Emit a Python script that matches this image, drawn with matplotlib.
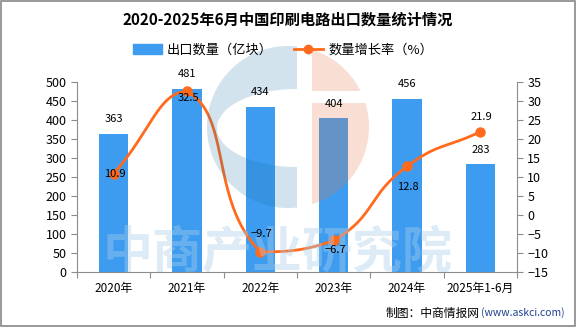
import numpy as np
import matplotlib.pyplot as plt
from matplotlib.patches import Polygon, Rectangle, Patch
from matplotlib.lines import Line2D
from matplotlib.transforms import offset_copy

plt.rcParams['font.family'] = ['Noto Sans CJK SC', 'DejaVu Sans']
plt.rcParams['axes.unicode_minus'] = True

years = ['2020年', '2021年', '2022年', '2023年', '2024年', '2025年1-6月']
export_qty = [363, 481, 434, 404, 456, 283]      # 亿块
growth = [10.9, 32.5, -9.7, -6.7, 12.8, 21.9]     # %

bar_color = '#3D9CF0'
line_color = '#FF6A1C'
grid_gray = '#8C8C8C'

fig = plt.figure(figsize=(5.76, 3.27), dpi=100)
fig.patch.set_facecolor('white')

ax = fig.add_axes([77 / 576, 1 - 272 / 327, 440 / 576, 190 / 327])
ax2 = ax.twinx()

x = np.arange(len(years))
ax.bar(x, export_qty, width=0.4, color=bar_color, zorder=2)
ax.set_xlim(-0.5, len(years) - 0.5)
ax.set_ylim(0, 500)
ax.set_yticks(range(0, 501, 50))
ax2.set_ylim(-15, 35)
ax2.set_yticks(range(-15, 36, 5))


# smoothed line: bezier control points clamped to neighbouring points' range
def smooth_curve(xs, ys, smooth=0.5, yscale=190 / 50 / 73.3):
    pts = np.column_stack([np.asarray(xs, float), np.asarray(ys, float) * yscale])
    n = len(pts)
    cin, cout = [None] * n, [None] * n
    for i in range(n):
        p = pts[i]
        prev = pts[i - 1] if i > 0 else p
        nxt = pts[i + 1] if i < n - 1 else p
        v = nxt - prev
        l0 = np.linalg.norm(p - prev)
        l1 = np.linalg.norm(nxt - p)
        r = l1 / (l0 + l1) if l0 + l1 > 0 else 0.5
        c_out = p + v * smooth * r
        c_in = p - v * smooth * (1 - r)
        c_out = np.clip(c_out, np.minimum(p, nxt), np.maximum(p, nxt))
        c_in = np.clip(c_in, np.minimum(p, prev), np.maximum(p, prev))
        cin[i], cout[i] = c_in, c_out
    t = np.linspace(0, 1, 50)[:, None]
    segs = []
    for i in range(n - 1):
        p0, p1, p2, p3 = pts[i], cout[i], cin[i + 1], pts[i + 1]
        segs.append((1 - t) ** 3 * p0 + 3 * (1 - t) ** 2 * t * p1 + 3 * (1 - t) * t ** 2 * p2 + t ** 3 * p3)
    c = np.vstack(segs)
    return c[:, 0], c[:, 1] / yscale


cx, cy = smooth_curve(x, growth)
ax2.plot(cx, cy, color=line_color, lw=2.0, zorder=5, solid_capstyle='round')
ax2.plot(x, growth, 'o', color=line_color, ms=6.5, zorder=6)

for a in (ax, ax2):
    a.set_facecolor('none')
    a.spines['top'].set_visible(False)
    for s in ('left', 'right', 'bottom'):
        a.spines[s].set_color(grid_gray)
    a.tick_params(axis='y', colors=grid_gray, labelcolor='black', labelsize=9, length=4, width=0.8)
ax2.spines['left'].set_visible(False)
ax.spines['right'].set_visible(False)
ax2.spines['bottom'].set_visible(False)
ax.set_zorder(1)
ax2.set_zorder(2)

ax.set_xticks(x)
ax.set_xticklabels(years, fontsize=8.5)
ax.tick_params(axis='x', which='major', length=0, pad=7)
ax.set_xticks(np.arange(-0.5, len(years), 1), minor=True)
ax.tick_params(axis='x', which='minor', length=4, color=grid_gray, width=0.8)

# watermark: logo and company name
wm = fig.add_axes([0, 0, 1, 1], zorder=3)
wm.set_xlim(0, 576)
wm.set_ylim(327, 0)
wm.axis('off')
blue_wm = (30 / 255, 115 / 255, 170 / 255)
peach_wm = (233 / 255, 119 / 255, 66 / 255)
ox, oy, r = 288, 127, 81
ex, ey, ea, eb = 297, 128, 80, 39
cut = 297
t0 = np.arccos((cut - ox) / r)
ts = np.linspace(-t0, -2 * np.pi + t0, 120)
outer = np.column_stack([ox + r * np.cos(ts), oy + r * np.sin(ts)])
ss = np.linspace(np.pi / 2, 3 * np.pi / 2, 80)
inner = np.column_stack([ex + ea * np.cos(ss), ey + eb * np.sin(ss)])
wm.add_patch(Polygon(np.vstack([outer, inner]), closed=True, color=blue_wm, alpha=0.2, lw=0))

px, band0, band1 = 312, 91, 103
a_top = -np.arccos((px - ox) / r)
a_b0 = np.arcsin((band0 - oy) / r)
a_b1 = np.arcsin((band1 - oy) / r)
a_bot = np.arccos((px - ox) / r)
for a0, a1, corner in ((a_top, a_b0, (px, band0)), (a_b1, a_bot, (px, band1))):
    tt = np.linspace(a0, a1, 80)
    arc = np.column_stack([ox + r * np.cos(tt), oy + r * np.sin(tt)])
    wm.add_patch(Polygon(np.vstack([arc, [corner]]), closed=True, color=peach_wm, alpha=0.23, lw=0))

wm.text(278, 254, '中商产业研究院', fontsize=36, fontweight='bold', color=(170 / 255, 205 / 255, 235 / 255),
        alpha=0.4, ha='center', va='center')

# value labels sit above the watermark layer
for xi, v in zip(x, export_qty):
    fig.text(xi, v, str(v), transform=offset_copy(ax.transData, fig=fig, x=0, y=7, units='points'),
             ha='center', va='bottom', fontsize=8, color='black', zorder=5)

label_dy = [0, -5, 13, -7, -15, 11]
for xi, v, dy in zip(x, growth, label_dy):
    fig.text(xi, v, f'{v:.1f}'.replace('-', '\u2212'),
             transform=offset_copy(ax2.transData, fig=fig, x=1, y=dy, units='points'),
             ha='center', va='center', fontsize=8, color='black', zorder=5)

fig.text(0.5, 1 - 20 / 327, '2020-2025年6月中国印刷电路出口数量统计情况', ha='center', va='center',
         fontsize=11, fontweight='bold')

handles = [Patch(color=bar_color),
           Line2D([0], [0], color=line_color, lw=2, marker='o', ms=6)]
fig.legend(handles, ['出口数量（亿块）', '数量增长率（%）'], loc='center', bbox_to_anchor=(0.491, 1 - 50 / 327),
           ncol=2, frameon=False, fontsize=9.5, handlelength=2.2, handleheight=0.75, columnspacing=1.6,
           handletextpad=0.4)

fig.text(480 / 576, 1 - 313 / 327, '制图：中商情报网', ha='right', va='center', fontsize=8.5)
fig.text(481 / 576, 1 - 313 / 327, '(www.askci.com)', ha='left', va='center', fontsize=7.5, color='#1F3F8F')

fig.add_artist(Rectangle((0.001, 0.002), 0.997, 0.996, transform=fig.transFigure, fill=False,
                         edgecolor='#888888', lw=1.2))

fig.savefig('out.png', dpi=100)
